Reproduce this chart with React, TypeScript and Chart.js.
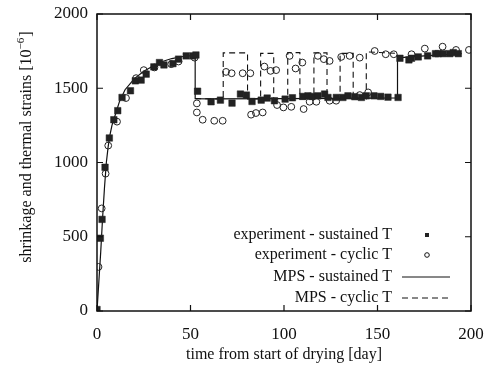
import React, { useEffect, useRef } from "react";
import { Chart, registerables } from "chart.js";

Chart.register(...registerables);

// ---- data (days, strain 10^-6) ----
const expSustainedDays = [0, 1.8, 2.7, 4.3, 6.6, 9, 11.1, 13.4, 17.9, 20.5, 23.6, 26.3, 30.4, 33.4, 35.8, 40.6, 43.6, 47.7, 51.3, 52.9, 53.8, 61, 66, 72.2, 76.7, 79.9, 82.9, 87.8, 91, 94.9, 100.6, 104.5, 110, 112.8, 114.9, 118.1, 121.7, 123.5, 128, 131.5, 134.2, 137.8, 141.4, 144, 148.1, 151.7, 155.6, 161, 162, 166.8, 168.2, 171.8, 176.8, 181, 182.5, 185.2, 188.7, 190.5, 193.2];
const expSustainedVals = [10, 490, 617, 968, 1165, 1288, 1349, 1438, 1483, 1550, 1555, 1595, 1644, 1673, 1657, 1666, 1696, 1718, 1718, 1724, 1480, 1409, 1420, 1400, 1461, 1454, 1411, 1420, 1434, 1416, 1427, 1436, 1445, 1449, 1445, 1449, 1461, 1438, 1438, 1438, 1449, 1443, 1438, 1449, 1449, 1445, 1440, 1438, 1702, 1691, 1702, 1711, 1718, 1733, 1733, 1733, 1733, 1740, 1733];

const expCyclicDays = [0.8, 2.5, 4.6, 6, 10.7, 15.5, 20.9, 25, 30.7, 39.7, 43.6, 52.2, 53.4, 53.4, 56.5, 62.7, 67.2, 69, 72, 77.9, 82, 82.4, 85, 88.6, 89.5, 92.8, 95.8, 96.3, 99.7, 103, 103.9, 106.2, 109.8, 110.5, 113.7, 117.3, 118.1, 121.3, 124.4, 124.4, 127.9, 130.6, 135.1, 140.5, 140.5, 145, 148.5, 154.4, 158.7, 168.2, 175.3, 184.8, 192, 198.9];
const expCyclicVals = [297, 691, 925, 1114, 1275, 1434, 1568, 1622, 1640, 1662, 1680, 1706, 1398, 1337, 1288, 1281, 1281, 1610, 1601, 1601, 1601, 1322, 1333, 1337, 1646, 1617, 1622, 1387, 1371, 1718, 1375, 1633, 1673, 1360, 1409, 1409, 1718, 1696, 1684, 1416, 1416, 1711, 1718, 1706, 1454, 1472, 1751, 1729, 1729, 1729, 1767, 1780, 1758, 1758];

const mpsSustainedDays = [0, 1, 2, 3, 4, 5, 6, 7, 8, 10, 12, 15, 20, 25, 30, 35, 40, 45, 52.5, 52.5, 60, 100, 130, 160.7, 160.7, 175, 195];
const mpsSustainedVals = [0, 200, 400, 630, 830, 1000, 1110, 1190, 1250, 1330, 1410, 1490, 1565, 1615, 1650, 1680, 1700, 1712, 1722, 1430, 1428, 1430, 1432, 1435, 1705, 1718, 1733];

const mpsCyclicDays = [52.5, 67.5, 67.5, 80.5, 80.5, 87.5, 87.5, 94.5, 94.5, 102, 102, 108.5, 108.5, 116, 116, 123, 123, 130, 130, 137, 137, 144, 144, 160.7, 160.7];
const mpsCyclicVals = [1430, 1428, 1738, 1738, 1428, 1428, 1735, 1735, 1428, 1428, 1740, 1740, 1428, 1428, 1738, 1738, 1428, 1428, 1735, 1735, 1428, 1428, 1745, 1735, 1705];

const xTicks = [0, 50, 100, 150, 200];
const yTicks = [0, 500, 1000, 1500, 2000];

const legendLabels = [
  "experiment - sustained T",
  "experiment - cyclic T",
  "MPS - sustained T",
  "MPS - cyclic T",
];

const xTitle = "time from start of drying [day]";
const yTitleMain = "shrinkage and thermal strains [10";
const yTitleSup = "\u22126";
const yTitleEnd = "]";

const toPts = (xs: number[], ys: number[]) => xs.map((x, i) => ({ x, y: ys[i] }));

const FONT = "'Liberation Serif', 'Times New Roman', serif";

const decor = {
  id: "decor",
  afterDraw(chart: any) {
    const { ctx, chartArea: a, scales } = chart;
    const xs = scales.x, ys = scales.y;
    ctx.save();
    ctx.strokeStyle = "#111";
    ctx.lineWidth = 1.5;
    ctx.strokeRect(a.left, a.top, a.right - a.left, a.bottom - a.top);
    ctx.lineWidth = 1.2;
    const tl = 6;
    xTicks.forEach((v) => {
      const px = xs.getPixelForValue(v);
      ctx.beginPath();
      ctx.moveTo(px, a.bottom); ctx.lineTo(px, a.bottom - tl);
      ctx.moveTo(px, a.top); ctx.lineTo(px, a.top + tl);
      ctx.stroke();
    });
    yTicks.forEach((v) => {
      const py = ys.getPixelForValue(v);
      ctx.beginPath();
      ctx.moveTo(a.left, py); ctx.lineTo(a.left + tl, py);
      ctx.moveTo(a.right, py); ctx.lineTo(a.right - tl, py);
      ctx.stroke();
    });

    // x title
    ctx.fillStyle = "#111";
    ctx.font = `16px ${FONT}`;
    ctx.textAlign = "center";
    ctx.textBaseline = "middle";
    ctx.fillText(xTitle, (a.left + a.right) / 2, 355);

    // y title (rotated)
    ctx.save();
    ctx.translate(27, 0);
    ctx.rotate(-Math.PI / 2);
    ctx.font = `16px ${FONT}`;
    const w1 = ctx.measureText(yTitleMain).width;
    ctx.font = `11px ${FONT}`;
    const w2 = ctx.measureText(yTitleSup).width;
    ctx.font = `16px ${FONT}`;
    const w3 = ctx.measureText(yTitleEnd).width;
    const total = w1 + w2 + w3 + 1;
    const cy = 147;
    let sx = -cy - total / 2;
    ctx.textAlign = "left";
    ctx.textBaseline = "middle";
    ctx.fillText(yTitleMain, sx, 0);
    sx += w1;
    ctx.font = `11px ${FONT}`;
    ctx.fillText(yTitleSup, sx, -6);
    sx += w2 + 1;
    ctx.font = `16px ${FONT}`;
    ctx.fillText(yTitleEnd, sx, 0);
    ctx.restore();

    // legend
    const rows = [235, 255, 277, 298];
    ctx.font = `16px ${FONT}`;
    ctx.textAlign = "right";
    ctx.textBaseline = "middle";
    legendLabels.forEach((t, i) => ctx.fillText(t, 392, rows[i]));
    ctx.fillStyle = "#222";
    ctx.fillRect(425, rows[0] - 2, 4, 4);
    ctx.beginPath();
    ctx.lineWidth = 1;
    ctx.arc(427, rows[1], 2.3, 0, Math.PI * 2);
    ctx.stroke();
    ctx.lineWidth = 1;
    ctx.beginPath();
    ctx.moveTo(402, rows[2]); ctx.lineTo(450, rows[2]);
    ctx.stroke();
    ctx.setLineDash([6, 4]);
    ctx.beginPath();
    ctx.moveTo(402, rows[3]); ctx.lineTo(450, rows[3]);
    ctx.stroke();
    ctx.restore();
  },
};

export default function App() {
  const ref = useRef<HTMLCanvasElement>(null);
  useEffect(() => {
    if (!ref.current) return;
    const chart = new Chart(ref.current, {
      type: "scatter",
      data: {
        datasets: [
          {
            label: legendLabels[0],
            data: toPts(expSustainedDays, expSustainedVals),
            pointStyle: "rect",
            pointRadius: 4.6,
            backgroundColor: "#222",
            borderColor: "#222",
            borderWidth: 0.5,
            order: 1,
          },
          {
            label: legendLabels[1],
            data: toPts(expCyclicDays, expCyclicVals),
            pointStyle: "circle",
            pointRadius: 3.4,
            backgroundColor: "rgba(255,255,255,0)",
            borderColor: "#222",
            borderWidth: 1,
            order: 2,
          },
          {
            label: legendLabels[2],
            data: toPts(mpsSustainedDays, mpsSustainedVals),
            showLine: true,
            pointRadius: 0,
            borderColor: "#111",
            borderWidth: 1.2,
            order: 3,
          },
          {
            label: legendLabels[3],
            data: toPts(mpsCyclicDays, mpsCyclicVals),
            showLine: true,
            pointRadius: 0,
            borderColor: "#111",
            borderWidth: 1.1,
            borderDash: [6, 4],
            order: 4,
          },
        ],
      },
      options: {
        responsive: false,
        animation: false,
        layout: { padding: { top: 14, right: 13, left: 0, bottom: 0 } },
        plugins: { legend: { display: false }, tooltip: { enabled: false } },
        scales: {
          x: {
            type: "linear",
            min: 0,
            max: 200,
            afterBuildTicks: (s: any) => { s.ticks = xTicks.map((v) => ({ value: v })); },
            grid: { display: false, drawTicks: false },
            border: { display: false },
            ticks: {
              padding: 13,
              color: "#111",
              font: { family: FONT, size: 17 },
              maxRotation: 0,
              callback: (v: any) => String(v),
            },
            afterFit: (s: any) => {
              s.height = 65;
              s.paddingLeft = 0;
              s.paddingRight = 0;
            },
          },
          y: {
            type: "linear",
            min: 0,
            max: 2000,
            afterBuildTicks: (s: any) => { s.ticks = yTicks.map((v) => ({ value: v })); },
            grid: { display: false, drawTicks: false },
            border: { display: false },
            ticks: {
              padding: 9,
              color: "#111",
              font: { family: FONT, size: 17 },
              callback: (v: any) => String(v),
            },
            afterFit: (s: any) => {
              s.width = 97;
              s.paddingTop = 0;
              s.paddingBottom = 0;
            },
          },
        },
      },
      plugins: [decor],
    });
    return () => chart.destroy();
  }, []);
  return (
    <div style={{ position: "absolute", left: 0, top: 0, width: 484, height: 376, background: "#fff" }}>
      <canvas ref={ref} width={484} height={376} />
    </div>
  );
}
